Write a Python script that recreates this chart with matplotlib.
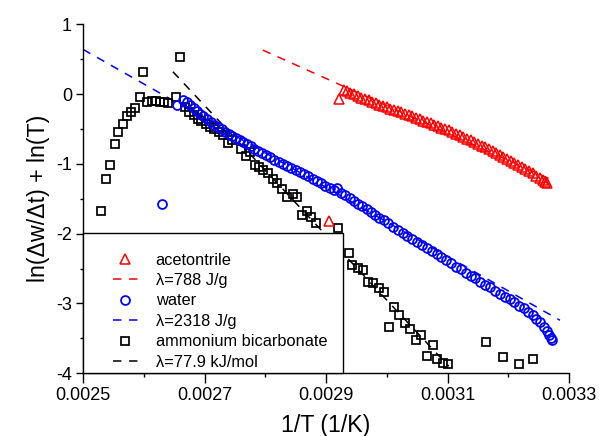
import matplotlib
matplotlib.use("Agg")
import matplotlib.pyplot as plt
from matplotlib.lines import Line2D
from matplotlib.patches import Rectangle

plt.rcParams['font.family'] = ['Liberation Sans', 'DejaVu Sans']

# ---------------- data ----------------
# acetonitrile (red triangles)
acn_x = [0.002905, 0.002921, 0.002929, 0.002934, 0.002940, 0.002946, 0.002952, 0.002958, 0.002964,
         0.002970, 0.002976, 0.002982, 0.002988, 0.002994, 0.003000, 0.003006, 0.003012, 0.003018,
         0.003024, 0.003030, 0.003036, 0.003042, 0.003048, 0.003054, 0.003060, 0.003066, 0.003072,
         0.003078, 0.003084, 0.003090, 0.003096, 0.003102, 0.003108, 0.003114, 0.003120, 0.003126,
         0.003132, 0.003138, 0.003144, 0.003150, 0.003156, 0.003162, 0.003168, 0.003174, 0.003180,
         0.003186, 0.003192, 0.003198, 0.003204, 0.003210, 0.003216, 0.003222, 0.003228, 0.003234,
         0.003240, 0.003246, 0.003252, 0.003257, 0.003261, 0.003264]
acn_y = [-1.82, -0.07, 0.06, 0.04, 0.02, 0.00, -0.03, -0.05, -0.07,
         -0.09, -0.11, -0.13, -0.15, -0.17, -0.19, -0.21, -0.23, -0.24,
         -0.26, -0.28, -0.30, -0.32, -0.34, -0.36, -0.38, -0.40, -0.42,
         -0.44, -0.46, -0.48, -0.50, -0.52, -0.54, -0.57, -0.59, -0.61,
         -0.64, -0.66, -0.69, -0.71, -0.74, -0.76, -0.79, -0.82, -0.85,
         -0.87, -0.90, -0.93, -0.96, -0.99, -1.02, -1.04, -1.07, -1.10,
         -1.13, -1.17, -1.20, -1.23, -1.26, -1.28]
acn_fit_x = [0.002796, 0.003277]
acn_fit_y = [0.63, -1.25]

# water (blue circles)
wat_x = [0.002630, 0.002654, 0.002665, 0.002671, 0.002676, 0.002682, 0.002687, 0.002693, 0.002698,
         0.002704, 0.002710, 0.002716, 0.002722, 0.002728, 0.002734, 0.002740, 0.002746, 0.002752,
         0.002758, 0.002764, 0.002770, 0.002776, 0.002782, 0.002788, 0.002795, 0.002801, 0.002808,
         0.002815, 0.002822, 0.002829, 0.002836, 0.002843, 0.002850, 0.002857, 0.002864, 0.002871,
         0.002878, 0.002885, 0.002892, 0.002899, 0.002906, 0.002913, 0.002918, 0.002925, 0.002932,
         0.002939, 0.002946, 0.002953, 0.002960, 0.002967, 0.002974, 0.002981, 0.002988, 0.002995,
         0.003002, 0.003010, 0.003018, 0.003026, 0.003034, 0.003042, 0.003050, 0.003058, 0.003066,
         0.003074, 0.003082, 0.003090, 0.003098, 0.003106, 0.003114, 0.003122, 0.003130, 0.003138,
         0.003146, 0.003154, 0.003162, 0.003170, 0.003178, 0.003186, 0.003194, 0.003202, 0.003210,
         0.003218, 0.003226, 0.003233, 0.003240, 0.003246, 0.003252, 0.003258, 0.003263, 0.003267,
         0.003270, 0.003272]
wat_y = [-1.575, -0.16, -0.08, -0.11, -0.15, -0.20, -0.24, -0.28, -0.32,
         -0.36, -0.40, -0.44, -0.47, -0.50, -0.54, -0.57, -0.60, -0.63,
         -0.66, -0.69, -0.72, -0.75, -0.78, -0.81, -0.84, -0.87, -0.90,
         -0.94, -0.97, -1.00, -1.03, -1.06, -1.09, -1.12, -1.15, -1.18,
         -1.21, -1.24, -1.28, -1.31, -1.35, -1.38, -1.34, -1.41, -1.45,
         -1.49, -1.53, -1.57, -1.61, -1.65, -1.69, -1.73, -1.77, -1.81,
         -1.85, -1.90, -1.94, -1.99, -2.03, -2.08, -2.12, -2.16, -2.21,
         -2.25, -2.29, -2.34, -2.38, -2.42, -2.47, -2.51, -2.56, -2.60,
         -2.64, -2.69, -2.73, -2.77, -2.82, -2.86, -2.90, -2.94, -2.98,
         -3.03, -3.07, -3.12, -3.17, -3.22, -3.27, -3.33, -3.39, -3.45,
         -3.50, -3.53]
wat_fit_x = [0.002500, 0.003285]
wat_fit_y = [0.64, -3.24]

# ammonium bicarbonate (black squares)
amb_x = [0.002530, 0.002537, 0.002544, 0.002552, 0.002558, 0.002565, 0.002572, 0.002579, 0.002586,
         0.002593, 0.002599, 0.002605, 0.002613, 0.002620, 0.002627, 0.002634, 0.002640, 0.002653,
         0.002660, 0.002668, 0.002675, 0.002682, 0.002689, 0.002695, 0.002703, 0.002709, 0.002716,
         0.002723, 0.002730, 0.002738, 0.002746, 0.002760, 0.002768, 0.002775, 0.002783, 0.002790,
         0.002797, 0.002805, 0.002812, 0.002819, 0.002827, 0.002835, 0.002846, 0.002853, 0.002860,
         0.002868, 0.002876, 0.002884, 0.002919, 0.002937, 0.002942, 0.002952, 0.002961, 0.002969,
         0.002978, 0.002987, 0.002995, 0.003004, 0.003012, 0.003020, 0.003030, 0.003038, 0.003048,
         0.003057, 0.003066, 0.003076, 0.003083, 0.003093, 0.003101, 0.003164, 0.003192, 0.003218,
         0.003241]
amb_y = [-1.67, -1.22, -1.02, -0.72, -0.54, -0.43, -0.32, -0.25, -0.20,
         -0.04, 0.32, -0.11, -0.10, -0.10, -0.11, -0.12, -0.13, -0.04,
         0.53, -0.19, -0.25, -0.30, -0.35, -0.38, -0.43, -0.47, -0.50,
         -0.54, -0.59, -0.70, -0.66, -0.79, -0.89, -0.83, -1.01, -1.04,
         -1.09, -1.13, -1.21, -1.28, -1.36, -1.48, -1.43, -1.47, -1.73,
         -1.68, -1.76, -1.85, -1.92, -2.28, -2.45, -2.49, -2.52, -2.69,
         -2.71, -2.78, -2.83, -3.33, -3.05, -3.16, -3.28, -3.36, -3.52,
         -3.45, -3.75, -3.59, -3.80, -3.85, -3.87, -3.55, -3.77, -3.87,
         -3.79]
amb_fit_x = [0.002648, 0.003102]
amb_fit_y = [0.32, -3.90]

labels = ["acetontrile", "\u03bb=788 J/g", "water", "\u03bb=2318 J/g",
          "ammonium bicarbonate", "\u03bb=77.9 kJ/mol"]

x_ticks = [0.0025, 0.0027, 0.0029, 0.0031, 0.0033]
x_ticklabels = ["0.0025", "0.0027", "0.0029", "0.0031", "0.0033"]
x_minor = [0.0026, 0.0028, 0.0030, 0.0032]
y_ticks = [-4, -3, -2, -1, 0, 1]
y_minor = [-3.5, -2.5, -1.5, -0.5, 0.5]

RED, BLUE, BLACK = "#FF0000", "#0000FF", "#000000"

# marker styles
tri_kw = dict(ls="none", marker="^", ms=7.0, mfc="none", mec=RED, mew=1.1)
cir_kw = dict(ls="none", marker="o", ms=6.4, mfc="none", mec=BLUE, mew=1.3)
sq_kw = dict(ls="none", marker="s", ms=5.6, mfc="none", mec=BLACK, mew=1.25)

# ---------------- figure ----------------
fig = plt.figure(figsize=(5.99, 4.36), dpi=100)
ax = fig.add_axes([0.1386, 0.1438, 0.8114, 0.8005])

dash = (5.5, 5.0)
ax.plot(acn_fit_x, acn_fit_y, color=RED, lw=1.1, dashes=dash, zorder=2)
ax.plot(wat_fit_x, wat_fit_y, color=BLUE, lw=1.1, dashes=dash, zorder=2)
ax.plot(amb_fit_x, amb_fit_y, color=BLACK, lw=1.1, dashes=dash, zorder=2)

ax.plot(amb_x, amb_y, zorder=3, **sq_kw)
ax.plot(wat_x, wat_y, zorder=3, **cir_kw)
ax.plot(acn_x, acn_y, zorder=3, **tri_kw)

ax.set_xlim(0.0025, 0.0033)
ax.set_ylim(-4, 1)
ax.set_xticks(x_ticks)
ax.set_xticklabels(x_ticklabels)
ax.set_xticks(x_minor, minor=True)
ax.set_yticks(y_ticks)
ax.set_yticklabels([str(v) for v in y_ticks])
ax.set_yticks(y_minor, minor=True)

for s in ["top", "right"]:
    ax.spines[s].set_visible(False)
for s in ["left", "bottom"]:
    ax.spines[s].set_linewidth(1.0)

ax.tick_params(axis="x", which="major", direction="out", length=7, width=1.0, pad=3, labelsize=13)
ax.tick_params(axis="x", which="minor", direction="out", length=3, width=1.0)
ax.tick_params(axis="y", which="major", direction="out", length=5, width=1.0, pad=3, labelsize=13)
ax.tick_params(axis="y", which="minor", direction="out", length=2.5, width=1.0)

ax.set_xlabel("1/T (1/K)", fontsize=16.7, labelpad=7)
ax.set_ylabel("ln(\u0394w/\u0394t) + ln(T)", fontsize=16.7, labelpad=4)

# legend frame
box_w = (343 - 83) / 486.0
box_h = 140 / 349.0
ax.add_patch(Rectangle((0, 0), box_w, box_h, transform=ax.transAxes, facecolor="white",
                       edgecolor="black", lw=1.0, zorder=5, clip_on=False))

handles = [
    Line2D([], [], **tri_kw),
    Line2D([], [], color=RED, lw=1.1, dashes=dash),
    Line2D([], [], **cir_kw),
    Line2D([], [], color=BLUE, lw=1.1, dashes=dash),
    Line2D([], [], **sq_kw),
    Line2D([], [], color=BLACK, lw=1.1, dashes=dash),
]
leg = ax.legend(handles, labels, loc="upper left", bbox_to_anchor=(0.0617, 0.3456),
                frameon=False, fontsize=11.8, handlelength=1.52, handletextpad=1.08,
                labelspacing=0.33, borderpad=0, borderaxespad=0)
leg.set_zorder(6)

fig.savefig("out.png", dpi=100)
